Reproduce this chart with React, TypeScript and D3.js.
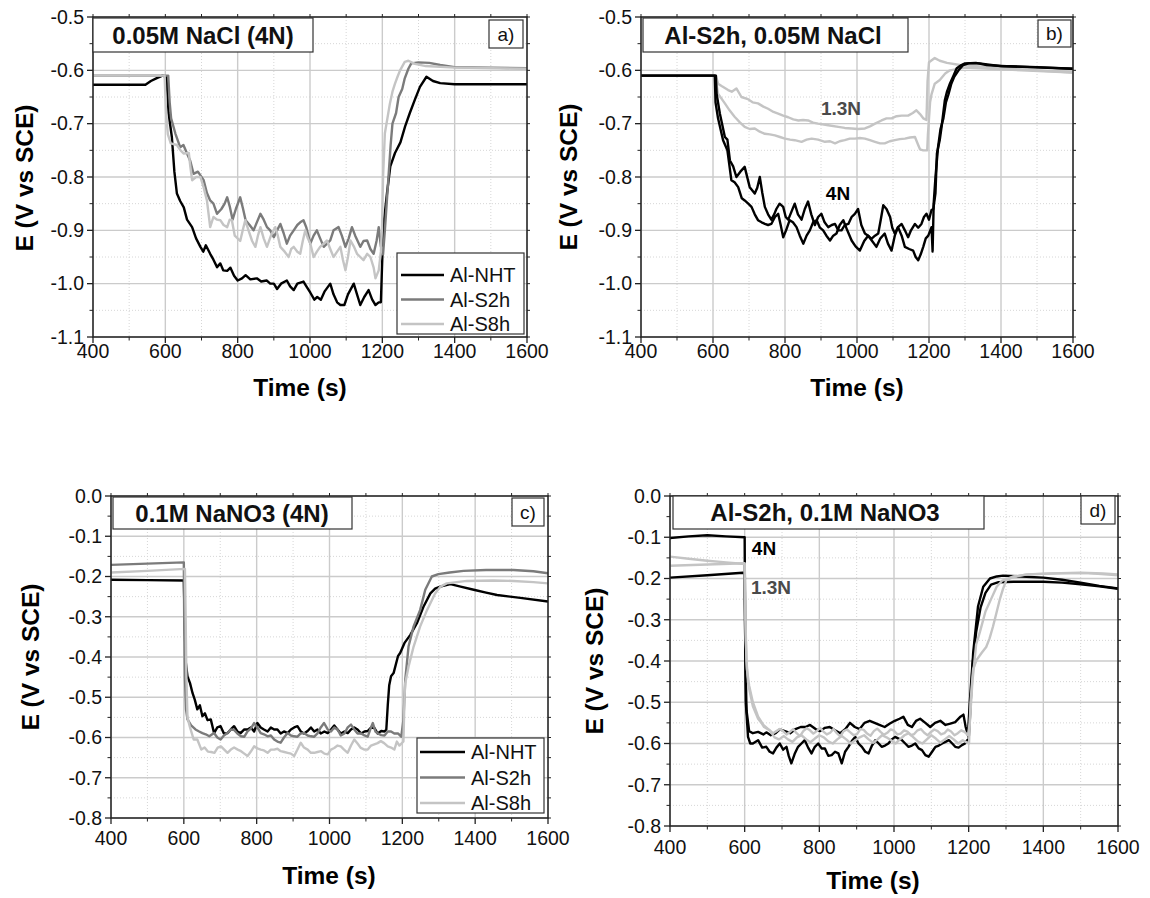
import React from "react";
import * as d3 from "d3";

type Pt = [number, number];

const timeTicks = [400, 600, 800, 1000, 1200, 1400, 1600];
const naclTicks = [-0.5, -0.6, -0.7, -0.8, -0.9, -1.0, -1.1];
const nitrateTicks = [0, -0.1, -0.2, -0.3, -0.4, -0.5, -0.6, -0.7, -0.8];
const legendNames = ["Al-NHT", "Al-S2h", "Al-S8h"];

const BLACK = "#000000";
const MID = "#7b7b7b";
const LIGHT = "#c4c4c4";
const NOTE = "#4a4a4a";

// a) 0.05M NaCl (4N)
const aNHT: Pt[] = [
  [400, -0.627], [545, -0.627], [560, -0.62], [575, -0.615], [592, -0.61], [603, -0.612], [609, -0.68],
  [618, -0.725], [625, -0.79], [632, -0.831], [641, -0.845], [651, -0.857], [660, -0.88], [674, -0.894],
  [685, -0.915], [697, -0.931], [705, -0.94], [712, -0.928], [724, -0.944], [733, -0.955], [743, -0.969],
  [752, -0.962], [760, -0.975], [771, -0.976], [780, -0.97], [790, -0.985], [800, -0.994], [812, -0.99],
  [822, -0.984], [835, -0.992], [853, -0.99], [865, -0.996], [880, -0.994], [890, -1.0], [900, -1.0],
  [909, -1.01], [920, -1.0], [936, -0.994], [945, -1.005], [955, -1.012], [965, -1.0], [982, -0.996],
  [990, -1.005], [1001, -1.017], [1012, -1.03], [1020, -1.025], [1030, -1.03], [1040, -1.015], [1056, -1.0],
  [1065, -1.02], [1075, -1.035], [1084, -1.04], [1095, -1.04], [1105, -1.02], [1121, -1.0], [1130, -1.02],
  [1139, -1.04], [1150, -1.025], [1162, -1.012], [1172, -1.03], [1181, -1.04], [1190, -1.035], [1196, -1.035],
  [1200, -0.95], [1205, -0.88], [1213, -0.83], [1222, -0.78], [1235, -0.755], [1250, -0.735], [1263, -0.705],
  [1276, -0.68], [1290, -0.655], [1304, -0.631], [1322, -0.612], [1340, -0.62], [1360, -0.624], [1400, -0.626],
  [1500, -0.626], [1600, -0.626],
];
const aS2h: Pt[] = [
  [400, -0.61], [608, -0.61], [612, -0.66], [616, -0.69], [628, -0.719], [641, -0.744], [650, -0.74],
  [660, -0.756], [669, -0.77], [678, -0.794], [690, -0.79], [706, -0.806], [715, -0.83], [724, -0.844],
  [733, -0.85], [743, -0.869], [755, -0.86], [764, -0.85], [771, -0.838], [778, -0.855], [786, -0.88],
  [795, -0.86], [807, -0.838], [815, -0.86], [822, -0.881], [833, -0.89], [844, -0.9], [853, -0.885],
  [863, -0.869], [872, -0.88], [881, -0.894], [890, -0.9], [900, -0.913], [909, -0.9], [918, -0.888],
  [927, -0.905], [936, -0.925], [945, -0.91], [955, -0.9], [965, -0.89], [973, -0.885], [982, -0.881],
  [990, -0.895], [1001, -0.925], [1010, -0.91], [1019, -0.9], [1028, -0.915], [1038, -0.931], [1047, -0.925],
  [1056, -0.919], [1065, -0.9], [1079, -0.894], [1088, -0.91], [1098, -0.931], [1107, -0.915], [1116, -0.894],
  [1125, -0.91], [1139, -0.931], [1148, -0.92], [1158, -0.919], [1167, -0.935], [1176, -0.944], [1184, -0.92],
  [1190, -0.894], [1196, -0.93], [1202, -0.945], [1207, -0.9], [1212, -0.85], [1218, -0.79], [1223, -0.74],
  [1228, -0.7], [1238, -0.68], [1245, -0.65], [1255, -0.635], [1262, -0.615], [1272, -0.597], [1280, -0.587],
  [1300, -0.585], [1330, -0.586], [1360, -0.59], [1400, -0.594], [1500, -0.595], [1600, -0.596],
];
const aS8h: Pt[] = [
  [400, -0.61], [598, -0.61], [602, -0.68], [607, -0.72], [615, -0.737], [632, -0.74], [642, -0.75],
  [651, -0.756], [665, -0.755], [669, -0.78], [674, -0.806], [685, -0.8], [697, -0.8], [706, -0.82],
  [715, -0.844], [724, -0.894], [733, -0.875], [743, -0.88], [752, -0.881], [761, -0.89], [771, -0.894],
  [778, -0.88], [784, -0.881], [792, -0.91], [807, -0.92], [814, -0.9], [821, -0.881], [830, -0.9],
  [840, -0.92], [849, -0.931], [856, -0.91], [863, -0.894], [872, -0.915], [881, -0.931], [892, -0.91],
  [904, -0.894], [911, -0.91], [918, -0.931], [930, -0.94], [941, -0.95], [948, -0.935], [955, -0.931],
  [965, -0.94], [973, -0.944], [980, -0.92], [987, -0.9], [994, -0.915], [1001, -0.925], [1010, -0.95],
  [1019, -0.94], [1028, -0.931], [1038, -0.925], [1047, -0.919], [1056, -0.935], [1065, -0.95], [1075, -0.94],
  [1084, -0.931], [1091, -0.955], [1098, -0.975], [1105, -0.95], [1112, -0.919], [1121, -0.93], [1130, -0.944],
  [1139, -0.95], [1148, -0.956], [1158, -0.944], [1167, -0.95], [1176, -0.97], [1181, -0.99], [1190, -0.975],
  [1196, -0.94], [1199, -0.894], [1202, -0.8], [1207, -0.718], [1214, -0.69], [1221, -0.662], [1228, -0.64],
  [1235, -0.625], [1242, -0.612], [1249, -0.6], [1262, -0.584], [1272, -0.582], [1290, -0.588], [1320, -0.592],
  [1400, -0.595], [1600, -0.597],
];

// b) Al-S2h, 0.05M NaCl
const b4NRunA: Pt[] = [
  [400, -0.61], [608, -0.61], [610, -0.644], [619, -0.681], [633, -0.725], [640, -0.73], [647, -0.769],
  [656, -0.78], [665, -0.8], [676, -0.79], [688, -0.781], [702, -0.819], [716, -0.831], [723, -0.82],
  [730, -0.8], [737, -0.83], [744, -0.856], [753, -0.87], [762, -0.88], [770, -0.87], [776, -0.86],
  [785, -0.85], [795, -0.856], [802, -0.875], [809, -0.88], [818, -0.865], [827, -0.85], [836, -0.87],
  [846, -0.88], [855, -0.86], [864, -0.846], [873, -0.87], [883, -0.89], [892, -0.875], [901, -0.869],
  [910, -0.885], [920, -0.894], [930, -0.89], [939, -0.888], [948, -0.9], [957, -0.9], [966, -0.89],
  [976, -0.888], [985, -0.875], [994, -0.869], [1003, -0.86], [1012, -0.89], [1022, -0.906], [1031, -0.91],
  [1040, -0.916], [1050, -0.91], [1059, -0.906], [1066, -0.88], [1073, -0.853], [1082, -0.86], [1092, -0.875],
  [1098, -0.895], [1105, -0.906], [1114, -0.894], [1124, -0.888], [1133, -0.9], [1142, -0.913], [1150, -0.9],
  [1161, -0.888], [1170, -0.895], [1179, -0.888], [1186, -0.875], [1193, -0.869], [1200, -0.88], [1207, -0.862],
  [1212, -0.86], [1218, -0.83], [1222, -0.756], [1230, -0.73], [1235, -0.706], [1244, -0.656], [1250, -0.64],
  [1258, -0.625], [1268, -0.61], [1277, -0.596], [1290, -0.59], [1300, -0.587], [1330, -0.586], [1360, -0.59],
  [1400, -0.592], [1500, -0.594], [1600, -0.597],
];
const b4NRunB: Pt[] = [
  [400, -0.61], [605, -0.61], [607, -0.66], [614, -0.69], [628, -0.731], [640, -0.75], [651, -0.806],
  [660, -0.81], [670, -0.819], [680, -0.84], [688, -0.844], [698, -0.85], [707, -0.856], [716, -0.87],
  [725, -0.881], [735, -0.885], [744, -0.888], [753, -0.89], [762, -0.888], [772, -0.875], [781, -0.869],
  [788, -0.89], [795, -0.913], [803, -0.9], [813, -0.881], [822, -0.885], [832, -0.894], [841, -0.91],
  [851, -0.925], [860, -0.91], [869, -0.9], [878, -0.885], [888, -0.881], [897, -0.895], [906, -0.9],
  [915, -0.91], [925, -0.919], [934, -0.91], [943, -0.906], [952, -0.89], [962, -0.881], [973, -0.9],
  [985, -0.919], [996, -0.93], [1008, -0.938], [1020, -0.92], [1031, -0.91], [1042, -0.92], [1054, -0.931],
  [1065, -0.915], [1077, -0.906], [1086, -0.925], [1096, -0.938], [1105, -0.91], [1114, -0.894], [1124, -0.91],
  [1133, -0.931], [1145, -0.935], [1156, -0.938], [1163, -0.95], [1170, -0.956], [1177, -0.945], [1184, -0.931],
  [1191, -0.915], [1198, -0.91], [1207, -0.894], [1210, -0.94], [1213, -0.85], [1218, -0.8], [1225, -0.745],
  [1232, -0.71], [1240, -0.69], [1247, -0.66], [1254, -0.645], [1262, -0.625], [1270, -0.612], [1282, -0.6],
  [1295, -0.59], [1310, -0.587], [1340, -0.587], [1400, -0.592], [1600, -0.597],
];
const b13NRunA: Pt[] = [
  [400, -0.61], [608, -0.61], [614, -0.625], [625, -0.63], [642, -0.637], [652, -0.64], [665, -0.634],
  [679, -0.65], [697, -0.654], [710, -0.66], [725, -0.662], [740, -0.668], [753, -0.672], [768, -0.678],
  [781, -0.681], [795, -0.685], [809, -0.688], [823, -0.692], [837, -0.694], [850, -0.693], [864, -0.694],
  [878, -0.698], [892, -0.7], [920, -0.703], [948, -0.706], [966, -0.708], [985, -0.709], [1003, -0.71],
  [1022, -0.709], [1036, -0.705], [1050, -0.7], [1068, -0.694], [1082, -0.69], [1096, -0.69], [1110, -0.686],
  [1124, -0.685], [1142, -0.685], [1155, -0.68], [1165, -0.675], [1175, -0.682], [1184, -0.69], [1193, -0.693],
  [1196, -0.62], [1200, -0.585], [1216, -0.577], [1230, -0.582], [1250, -0.586], [1286, -0.59], [1350, -0.593],
  [1450, -0.598], [1600, -0.604],
];
const b13NRunB: Pt[] = [
  [400, -0.61], [606, -0.61], [614, -0.644], [633, -0.662], [646, -0.675], [660, -0.687], [674, -0.697],
  [688, -0.706], [702, -0.71], [716, -0.709], [730, -0.715], [744, -0.719], [758, -0.72], [772, -0.722],
  [786, -0.725], [800, -0.728], [814, -0.73], [827, -0.731], [846, -0.734], [860, -0.73], [874, -0.728],
  [892, -0.73], [911, -0.734], [925, -0.733], [939, -0.737], [952, -0.733], [966, -0.731], [980, -0.728],
  [994, -0.728], [1008, -0.727], [1022, -0.728], [1036, -0.731], [1050, -0.734], [1064, -0.737], [1077, -0.737],
  [1091, -0.733], [1105, -0.731], [1119, -0.729], [1133, -0.728], [1147, -0.726], [1161, -0.725], [1170, -0.74],
  [1175, -0.748], [1184, -0.75], [1195, -0.75], [1197, -0.72], [1203, -0.66], [1207, -0.645], [1216, -0.625],
  [1230, -0.618], [1245, -0.606], [1258, -0.6], [1300, -0.595], [1400, -0.598], [1600, -0.604],
];

// c) 0.1M NaNO3 (4N)
const cNHT: Pt[] = [
  [400, -0.208], [500, -0.209], [600, -0.21], [602, -0.3], [605, -0.41], [610, -0.448], [617, -0.465],
  [624, -0.49], [630, -0.506], [637, -0.53], [644, -0.52], [651, -0.547], [658, -0.54], [665, -0.557],
  [674, -0.555], [683, -0.589], [692, -0.575], [701, -0.572], [710, -0.59], [720, -0.589], [729, -0.58],
  [738, -0.572], [747, -0.585], [756, -0.589], [766, -0.58], [775, -0.58], [784, -0.575], [793, -0.585],
  [802, -0.564], [811, -0.575], [820, -0.58], [830, -0.585], [839, -0.575], [848, -0.58], [857, -0.58],
  [866, -0.59], [875, -0.585], [885, -0.589], [894, -0.58], [903, -0.575], [912, -0.572], [921, -0.585],
  [930, -0.59], [940, -0.584], [949, -0.575], [958, -0.585], [967, -0.58], [976, -0.59], [986, -0.585],
  [995, -0.589], [1004, -0.58], [1013, -0.57], [1022, -0.58], [1031, -0.59], [1041, -0.585], [1050, -0.589],
  [1059, -0.58], [1068, -0.575], [1077, -0.58], [1087, -0.59], [1096, -0.585], [1105, -0.584], [1114, -0.575],
  [1123, -0.576], [1132, -0.59], [1142, -0.584], [1151, -0.585], [1156, -0.58], [1160, -0.52], [1164, -0.47],
  [1169, -0.448], [1176, -0.44], [1188, -0.398], [1194, -0.39], [1206, -0.365], [1222, -0.345], [1240, -0.316],
  [1258, -0.275], [1277, -0.242], [1290, -0.23], [1304, -0.225], [1332, -0.219], [1360, -0.225], [1396, -0.233],
  [1430, -0.24], [1460, -0.246], [1524, -0.253], [1600, -0.262],
];
const cS2h: Pt[] = [
  [400, -0.171], [500, -0.168], [600, -0.165], [601, -0.3], [603, -0.45], [606, -0.53], [610, -0.555],
  [620, -0.57], [632, -0.58], [642, -0.585], [651, -0.589], [660, -0.592], [670, -0.597], [683, -0.589],
  [692, -0.6], [701, -0.605], [710, -0.595], [720, -0.589], [729, -0.58], [738, -0.581], [747, -0.59],
  [757, -0.597], [766, -0.598], [775, -0.585], [784, -0.578], [793, -0.564], [802, -0.575], [811, -0.589],
  [820, -0.592], [830, -0.597], [839, -0.595], [848, -0.605], [857, -0.61], [866, -0.613], [875, -0.6],
  [885, -0.589], [894, -0.595], [903, -0.597], [912, -0.598], [921, -0.59], [930, -0.589], [940, -0.595],
  [949, -0.597], [958, -0.598], [967, -0.59], [976, -0.575], [985, -0.564], [995, -0.58], [1004, -0.585],
  [1013, -0.575], [1022, -0.58], [1031, -0.595], [1041, -0.59], [1050, -0.575], [1059, -0.568], [1068, -0.58],
  [1077, -0.59], [1087, -0.59], [1096, -0.595], [1105, -0.598], [1114, -0.575], [1119, -0.564], [1126, -0.585],
  [1133, -0.59], [1142, -0.594], [1151, -0.595], [1160, -0.585], [1169, -0.585], [1178, -0.59], [1188, -0.59],
  [1197, -0.598], [1203, -0.556], [1208, -0.457], [1217, -0.374], [1231, -0.324], [1249, -0.283], [1263, -0.233],
  [1281, -0.2], [1299, -0.194], [1330, -0.19], [1368, -0.186], [1430, -0.184], [1505, -0.184], [1560, -0.187],
  [1600, -0.192],
];
const cS8h: Pt[] = [
  [400, -0.19], [500, -0.186], [603, -0.181], [605, -0.3], [607, -0.45], [610, -0.55], [617, -0.575],
  [627, -0.605], [637, -0.605], [648, -0.63], [657, -0.625], [666, -0.635], [675, -0.636], [684, -0.638],
  [693, -0.625], [702, -0.622], [711, -0.63], [720, -0.638], [729, -0.63], [738, -0.625], [748, -0.63],
  [757, -0.634], [766, -0.64], [775, -0.646], [784, -0.635], [793, -0.622], [802, -0.627], [811, -0.63],
  [820, -0.632], [830, -0.638], [839, -0.63], [848, -0.63], [857, -0.628], [866, -0.634], [876, -0.636],
  [885, -0.638], [894, -0.64], [903, -0.646], [912, -0.63], [921, -0.613], [930, -0.625], [940, -0.63],
  [949, -0.638], [958, -0.638], [967, -0.636], [977, -0.634], [986, -0.64], [995, -0.642], [1004, -0.63],
  [1013, -0.626], [1022, -0.62], [1031, -0.622], [1040, -0.63], [1050, -0.638], [1059, -0.62], [1068, -0.605],
  [1077, -0.615], [1086, -0.626], [1096, -0.63], [1105, -0.63], [1114, -0.62], [1123, -0.617], [1132, -0.614],
  [1141, -0.609], [1150, -0.614], [1160, -0.622], [1169, -0.625], [1178, -0.63], [1185, -0.61], [1192, -0.62],
  [1203, -0.61], [1206, -0.5], [1208, -0.465], [1217, -0.424], [1231, -0.374], [1249, -0.324], [1268, -0.283],
  [1290, -0.242], [1305, -0.225], [1322, -0.217], [1377, -0.211], [1450, -0.21], [1505, -0.211], [1560, -0.214],
  [1600, -0.217],
];

// d) Al-S2h, 0.1M NaNO3
const d4NRunA: Pt[] = [
  [400, -0.102], [450, -0.098], [500, -0.095], [550, -0.098], [600, -0.1], [601, -0.3], [603, -0.5],
  [605, -0.527], [609, -0.584], [615, -0.6], [622, -0.6], [636, -0.592], [647, -0.61], [658, -0.608],
  [667, -0.62], [676, -0.624], [685, -0.61], [694, -0.6], [703, -0.615], [712, -0.608], [718, -0.63],
  [725, -0.648], [734, -0.625], [743, -0.608], [752, -0.6], [761, -0.592], [770, -0.61], [779, -0.624],
  [788, -0.608], [797, -0.6], [806, -0.612], [815, -0.612], [824, -0.63], [833, -0.628], [842, -0.62],
  [851, -0.624], [860, -0.648], [869, -0.62], [878, -0.608], [887, -0.594], [896, -0.584], [905, -0.6],
  [914, -0.608], [923, -0.62], [932, -0.624], [941, -0.605], [950, -0.592], [959, -0.6], [967, -0.608],
  [976, -0.605], [985, -0.6], [994, -0.59], [1003, -0.584], [1012, -0.588], [1021, -0.592], [1030, -0.6],
  [1039, -0.608], [1048, -0.605], [1057, -0.6], [1066, -0.612], [1075, -0.616], [1084, -0.628], [1093, -0.632],
  [1102, -0.62], [1111, -0.608], [1120, -0.605], [1129, -0.6], [1138, -0.596], [1147, -0.592], [1156, -0.6],
  [1164, -0.608], [1173, -0.61], [1182, -0.604], [1190, -0.6], [1196, -0.592], [1200, -0.59], [1203, -0.543],
  [1212, -0.381], [1225, -0.268], [1239, -0.22], [1257, -0.2], [1275, -0.195], [1292, -0.193], [1340, -0.195],
  [1400, -0.198], [1450, -0.203], [1500, -0.21], [1550, -0.218], [1600, -0.224],
];
const d4NRunB: Pt[] = [
  [400, -0.198], [500, -0.192], [595, -0.186], [600, -0.187], [602, -0.4], [605, -0.52], [612, -0.57],
  [622, -0.575], [636, -0.572], [650, -0.578], [658, -0.573], [670, -0.58], [683, -0.575], [694, -0.566],
  [708, -0.57], [722, -0.575], [736, -0.565], [750, -0.56], [763, -0.56], [775, -0.555], [790, -0.565],
  [802, -0.57], [815, -0.562], [828, -0.56], [842, -0.568], [856, -0.575], [870, -0.565], [882, -0.55],
  [895, -0.56], [908, -0.565], [921, -0.55], [935, -0.545], [948, -0.55], [961, -0.555], [975, -0.56],
  [988, -0.552], [1002, -0.545], [1015, -0.54], [1025, -0.535], [1037, -0.555], [1048, -0.56], [1059, -0.545],
  [1070, -0.54], [1084, -0.55], [1097, -0.56], [1110, -0.55], [1124, -0.545], [1138, -0.555], [1151, -0.552],
  [1164, -0.548], [1178, -0.535], [1186, -0.53], [1192, -0.56], [1198, -0.58], [1203, -0.5], [1210, -0.41],
  [1220, -0.33], [1232, -0.27], [1245, -0.235], [1260, -0.215], [1280, -0.209], [1320, -0.208], [1400, -0.208],
  [1450, -0.21], [1500, -0.214], [1550, -0.219], [1600, -0.225],
];
const d13NRunA: Pt[] = [
  [400, -0.147], [450, -0.152], [500, -0.157], [550, -0.161], [600, -0.165], [602, -0.3], [605, -0.4],
  [609, -0.452], [615, -0.48], [622, -0.51], [629, -0.525], [636, -0.54], [645, -0.55], [652, -0.56],
  [667, -0.568], [676, -0.575], [685, -0.57], [694, -0.565], [703, -0.57], [712, -0.578], [721, -0.572],
  [730, -0.565], [739, -0.575], [748, -0.582], [757, -0.57], [766, -0.563], [775, -0.568], [784, -0.576],
  [793, -0.57], [802, -0.562], [811, -0.571], [820, -0.578], [829, -0.574], [838, -0.565], [847, -0.575],
  [856, -0.583], [865, -0.57], [874, -0.566], [883, -0.573], [892, -0.58], [901, -0.577], [910, -0.565],
  [919, -0.567], [928, -0.576], [937, -0.581], [946, -0.57], [955, -0.564], [964, -0.572], [973, -0.579],
  [982, -0.574], [991, -0.566], [1000, -0.569], [1009, -0.578], [1018, -0.576], [1027, -0.568], [1036, -0.571],
  [1045, -0.58], [1054, -0.577], [1063, -0.568], [1072, -0.565], [1081, -0.574], [1090, -0.58], [1099, -0.572],
  [1108, -0.566], [1117, -0.57], [1126, -0.578], [1135, -0.575], [1144, -0.566], [1153, -0.571], [1162, -0.58],
  [1171, -0.575], [1180, -0.568], [1189, -0.572], [1198, -0.58], [1203, -0.55], [1210, -0.45], [1220, -0.36],
  [1230, -0.33], [1245, -0.28], [1260, -0.25], [1275, -0.22], [1290, -0.205], [1320, -0.195], [1360, -0.19],
  [1450, -0.187], [1520, -0.187], [1600, -0.192],
];
const d13NRunB: Pt[] = [
  [400, -0.169], [500, -0.166], [600, -0.163], [603, -0.35], [606, -0.42], [612, -0.46], [622, -0.5],
  [636, -0.535], [650, -0.555], [667, -0.568], [680, -0.585], [692, -0.59], [705, -0.582], [716, -0.59],
  [728, -0.596], [740, -0.585], [752, -0.58], [765, -0.59], [776, -0.597], [788, -0.588], [800, -0.58],
  [812, -0.585], [824, -0.595], [836, -0.6], [848, -0.59], [860, -0.582], [872, -0.59], [884, -0.6],
  [896, -0.592], [908, -0.585], [920, -0.58], [932, -0.59], [944, -0.598], [956, -0.59], [968, -0.58],
  [980, -0.585], [992, -0.592], [1004, -0.6], [1016, -0.59], [1028, -0.58], [1040, -0.575], [1052, -0.585],
  [1064, -0.595], [1076, -0.6], [1088, -0.59], [1100, -0.58], [1112, -0.588], [1124, -0.598], [1136, -0.59],
  [1148, -0.582], [1160, -0.59], [1172, -0.6], [1184, -0.592], [1196, -0.598], [1201, -0.6], [1205, -0.5],
  [1212, -0.42], [1221, -0.398], [1235, -0.38], [1247, -0.366], [1256, -0.345], [1265, -0.317], [1274, -0.285],
  [1283, -0.252], [1292, -0.225], [1301, -0.204], [1320, -0.196], [1355, -0.19], [1420, -0.188], [1500, -0.186],
  [1560, -0.188], [1600, -0.19],
];

const fmt = d3
  .formatLocale({ decimal: ".", thousands: ",", grouping: [3], currency: ["", ""], minus: "-" })
  .format(".1f");

const FONT = "Arial, 'Liberation Sans', Helvetica, sans-serif";

type Series = { data: Pt[]; color: string };
type Box = [number, number, number, number];
type Note = { text: string; x: number; y: number; color: string };
type Legend = { box: Box; lineX: [number, number]; textX: number; rowY: number; step: number };

type PanelProps = {
  id: string;
  left: number;
  right: number;
  top: number;
  bottom: number;
  yTicks: number[];
  series: Series[];
  title: string;
  titleBox: Box;
  titleX: number;
  tag: string;
  tagBox: Box;
  xLabelGap: number;
  xTitle: [number, number];
  yTitle: [number, number];
  legend?: Legend;
  notes?: Note[];
};

function Panel(p: PanelProps) {
  const x = d3.scaleLinear().domain([400, 1600]).range([p.left, p.right]);
  const yMin = d3.min(p.yTicks) as number;
  const yMax = d3.max(p.yTicks) as number;
  const y = d3.scaleLinear().domain([yMin, yMax]).range([p.bottom, p.top]);
  const line = d3
    .line<Pt>()
    .x((d) => x(d[0]))
    .y((d) => y(d[1]));

  const minorX = timeTicks.slice(1).map((t, i) => (t + timeTicks[i]) / 2);
  const minorY = p.yTicks.slice(1).map((v, i) => (v + p.yTicks[i]) / 2);

  return (
    <g>
      <defs>
        <clipPath id={`clip-${p.id}`}>
          <rect x={p.left} y={p.top} width={p.right - p.left} height={p.bottom - p.top} />
        </clipPath>
      </defs>

      {/* grid */}
      {minorX.map((t) => (
        <line key={`mx${t}`} x1={x(t)} x2={x(t)} y1={p.top} y2={p.bottom}
          stroke="#d6d6d6" strokeWidth={1} strokeDasharray="1,2" />
      ))}
      {minorY.map((v) => (
        <line key={`my${v}`} x1={p.left} x2={p.right} y1={y(v)} y2={y(v)}
          stroke="#d6d6d6" strokeWidth={1} strokeDasharray="1,2" />
      ))}
      {timeTicks.map((t) => (
        <line key={`gx${t}`} x1={x(t)} x2={x(t)} y1={p.top} y2={p.bottom} stroke="#cbcbcb" strokeWidth={1.4} />
      ))}
      {p.yTicks.map((v) => (
        <line key={`gy${v}`} x1={p.left} x2={p.right} y1={y(v)} y2={y(v)} stroke="#cbcbcb" strokeWidth={1.4} />
      ))}

      {/* data */}
      <g clipPath={`url(#clip-${p.id})`}>
        {p.series.map((s, i) => (
          <path key={i} d={line(s.data) || ""} fill="none" stroke={s.color} strokeWidth={2.4}
            strokeLinejoin="round" />
        ))}
      </g>

      {/* frame and ticks */}
      <rect x={p.left} y={p.top} width={p.right - p.left} height={p.bottom - p.top}
        fill="none" stroke="#222" strokeWidth={1.5} />
      {timeTicks.map((t) => (
        <g key={`tx${t}`}>
          <line x1={x(t)} x2={x(t)} y1={p.bottom} y2={p.bottom + 6} stroke="#222" strokeWidth={1.3} />
          <line x1={x(t)} x2={x(t)} y1={p.top} y2={p.top - 3} stroke="#222" strokeWidth={1} />
          <text x={x(t)} y={p.bottom + p.xLabelGap} textAnchor="middle" fontSize={19.5} fill="#111">
            {t}
          </text>
        </g>
      ))}
      {minorX.map((t) => (
        <g key={`tmx${t}`}>
          <line x1={x(t)} x2={x(t)} y1={p.bottom} y2={p.bottom + 3.5} stroke="#222" strokeWidth={1} />
          <line x1={x(t)} x2={x(t)} y1={p.top} y2={p.top - 3} stroke="#222" strokeWidth={1} />
        </g>
      ))}
      {p.yTicks.map((v) => (
        <g key={`ty${v}`}>
          <line x1={p.left} x2={p.left - 6} y1={y(v)} y2={y(v)} stroke="#222" strokeWidth={1.3} />
          <line x1={p.right} x2={p.right + 3} y1={y(v)} y2={y(v)} stroke="#222" strokeWidth={1} />
          <text x={p.left - 9} y={y(v)} dy="0.35em" textAnchor="end" fontSize={19.5} fill="#111">
            {fmt(v)}
          </text>
        </g>
      ))}
      {minorY.map((v) => (
        <g key={`tmy${v}`}>
          <line x1={p.left} x2={p.left - 3.5} y1={y(v)} y2={y(v)} stroke="#222" strokeWidth={1} />
          <line x1={p.right} x2={p.right + 3} y1={y(v)} y2={y(v)} stroke="#222" strokeWidth={1} />
        </g>
      ))}

      {/* axis titles */}
      <text x={p.xTitle[0]} y={p.xTitle[1]} dy="0.35em" textAnchor="middle" fontSize={24.5} fontWeight="bold">
        Time (s)
      </text>
      <text transform={`translate(${p.yTitle[0]},${p.yTitle[1]}) rotate(-90)`} dy="0.35em"
        textAnchor="middle" fontSize={24.5} fontWeight="bold">
        E (V vs SCE)
      </text>

      {/* title box */}
      <rect x={p.titleBox[0]} y={p.titleBox[2]} width={p.titleBox[1] - p.titleBox[0]}
        height={p.titleBox[3] - p.titleBox[2]} fill="#fff" stroke="#333" strokeWidth={1.2} />
      <text x={p.titleX} y={(p.titleBox[2] + p.titleBox[3]) / 2} dy="0.36em" textAnchor="middle"
        fontSize={24} fontWeight="bold" fill="#111">
        {p.title}
      </text>

      {/* panel tag */}
      <rect x={p.tagBox[0]} y={p.tagBox[2]} width={p.tagBox[1] - p.tagBox[0]}
        height={p.tagBox[3] - p.tagBox[2]} fill="#fff" stroke="#333" strokeWidth={1.2} />
      <text x={(p.tagBox[0] + p.tagBox[1]) / 2} y={(p.tagBox[2] + p.tagBox[3]) / 2} dy="0.35em"
        textAnchor="middle" fontSize={19} fill="#111">
        {p.tag}
      </text>

      {/* legend */}
      {p.legend && (
        <g>
          <rect x={p.legend.box[0]} y={p.legend.box[2]} width={p.legend.box[1] - p.legend.box[0]}
            height={p.legend.box[3] - p.legend.box[2]} fill="#fff" stroke="#333" strokeWidth={1.2} />
          {legendNames.map((name, i) => {
            const ry = p.legend!.rowY + i * p.legend!.step;
            return (
              <g key={name}>
                <line x1={p.legend!.lineX[0]} x2={p.legend!.lineX[1]} y1={ry} y2={ry}
                  stroke={p.series[i].color} strokeWidth={2.6} />
                <text x={p.legend!.textX} y={ry} dy="0.35em" fontSize={20} fill="#111">
                  {name}
                </text>
              </g>
            );
          })}
        </g>
      )}

      {/* curve labels */}
      {(p.notes || []).map((n) => (
        <text key={n.text} x={n.x} y={n.y} dy="0.35em" textAnchor="middle" fontSize={19}
          fontWeight="bold" fill={n.color}>
          {n.text}
        </text>
      ))}
    </g>
  );
}

export default function App() {
  return (
    <svg width={1150} height={898} viewBox="0 0 1150 898"
      style={{ position: "absolute", left: 0, top: 0, background: "#fff" }} fontFamily={FONT}>
      <rect width={1150} height={898} fill="#fff" />
      <Panel
        id="a"
        left={93} right={527} top={17} bottom={337}
        yTicks={naclTicks}
        series={[
          { data: aNHT, color: BLACK },
          { data: aS2h, color: MID },
          { data: aS8h, color: LIGHT },
        ]}
        title="0.05M NaCl (4N)"
        titleBox={[93, 313, 18, 52]}
        titleX={203}
        tag="a)"
        tagBox={[489, 523, 20, 48]}
        xLabelGap={21}
        xTitle={[300, 387]}
        yTitle={[24, 178]}
        legend={{ box: [397, 524, 253, 334], lineX: [401, 444], textX: 450, rowY: 275, step: 24.5 }}
      />
      <Panel
        id="b"
        left={641} right={1073} top={17} bottom={337}
        yTicks={naclTicks}
        series={[
          { data: b13NRunA, color: LIGHT },
          { data: b13NRunB, color: LIGHT },
          { data: b4NRunA, color: BLACK },
          { data: b4NRunB, color: BLACK },
        ]}
        title="Al-S2h, 0.05M NaCl"
        titleBox={[643, 908, 18, 52]}
        titleX={773}
        tag="b)"
        tagBox={[1038, 1071, 20, 47]}
        xLabelGap={21}
        xTitle={[857, 387]}
        yTitle={[568, 177]}
        notes={[
          { text: "1.3N", x: 841, y: 108, color: NOTE },
          { text: "4N", x: 838, y: 193, color: BLACK },
        ]}
      />
      <Panel
        id="c"
        left={111} right={548} top={496} bottom={818}
        yTicks={nitrateTicks}
        series={[
          { data: cNHT, color: BLACK },
          { data: cS2h, color: MID },
          { data: cS8h, color: LIGHT },
        ]}
        title="0.1M NaNO3 (4N)"
        titleBox={[113, 352, 497, 529]}
        titleX={232}
        tag="c)"
        tagBox={[512, 544, 498, 526]}
        xLabelGap={27}
        xTitle={[329, 875]}
        yTitle={[30, 657]}
        legend={{ box: [417, 544, 738, 813], lineX: [420, 465], textX: 471, rowY: 752, step: 25.5 }}
      />
      <Panel
        id="d"
        left={670} right={1118} top={496} bottom={826}
        yTicks={nitrateTicks}
        series={[
          { data: d4NRunA, color: BLACK },
          { data: d4NRunB, color: BLACK },
          { data: d13NRunA, color: LIGHT },
          { data: d13NRunB, color: LIGHT },
        ]}
        title="Al-S2h, 0.1M NaNO3"
        titleBox={[673, 984, 496, 529]}
        titleX={825}
        tag="d)"
        tagBox={[1081, 1115, 496, 524]}
        xLabelGap={28}
        xTitle={[873, 880]}
        yTitle={[594, 661]}
        notes={[
          { text: "4N", x: 764, y: 548, color: BLACK },
          { text: "1.3N", x: 771, y: 587, color: NOTE },
        ]}
      />
    </svg>
  );
}
